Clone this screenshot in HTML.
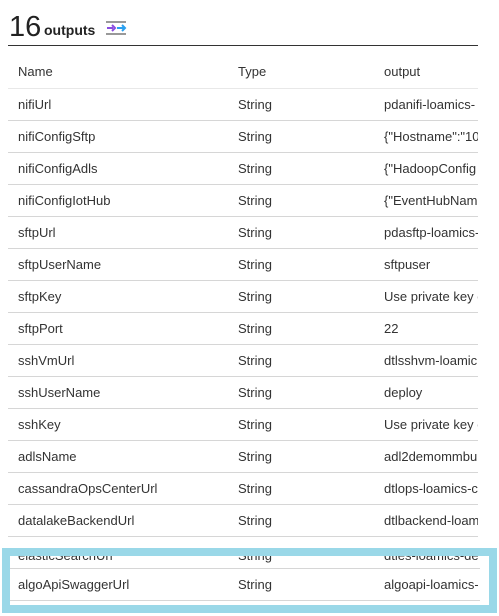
<!DOCTYPE html>
<html><head><style>
body{margin:0;width:499px;height:616px;background:#fff;position:relative;overflow:hidden;font-family:"Liberation Sans",sans-serif;color:#333;}
.t{position:absolute;font-size:13px;white-space:nowrap;line-height:16px}
.l{position:absolute;left:8px;width:470px;height:1px;background:#d6d6d6}
</style></head><body>
<div class="t" style="left:9px;top:10px;font-size:29px;line-height:34px;color:#222">16</div>
<div class="t" style="left:44px;top:22px;font-size:14px;font-weight:bold;color:#222">outputs</div>
<svg style="position:absolute;left:106px;top:21px" width="21" height="14">
<rect x="0" y="0" width="20" height="2" fill="#999"/><rect x="0" y="12" width="20" height="2" fill="#999"/>
<path d="M1 7h6" stroke="#8a4de0" stroke-width="2"/><path d="M6 4l3 3-3 3" fill="none" stroke="#8a4de0" stroke-width="2"/>
<path d="M11 7h7" stroke="#2aa0f0" stroke-width="2"/><path d="M16 4l3 3-3 3" fill="none" stroke="#2aa0f0" stroke-width="2"/>
</svg>
<div style="position:absolute;left:8px;top:45px;width:470px;height:1px;background:#333"></div>
<div class="t" style="left:18px;top:64px">Name</div>
<div class="t" style="left:238px;top:64px">Type</div>
<div class="t" style="left:384px;top:64px">output</div>
<div class="l" style="top:88px;background:#e8e8e8"></div>
<div id="rows"></div>
<script>
var r=[["nifiUrl","pdanifi-loamics-"],["nifiConfigSftp","{\"Hostname\":\"10"],["nifiConfigAdls","{\"HadoopConfig"],["nifiConfigIotHub","{\"EventHubNam"],["sftpUrl","pdasftp-loamics-"],["sftpUserName","sftpuser"],["sftpKey","Use private key c"],["sftpPort","22"],["sshVmUrl","dtlsshvm-loamic"],["sshUserName","deploy"],["sshKey","Use private key c"],["adlsName","adl2demommbu"],["cassandraOpsCenterUrl","dtlops-loamics-c"],["datalakeBackendUrl","dtlbackend-loam"]];
var h="";
r.forEach(function(a,i){var y=97+32*i;
h+='<div class="t" style="left:18px;top:'+y+'px">'+a[0]+'</div><div class="t" style="left:238px;top:'+y+'px">String</div><div class="t" style="left:384px;top:'+y+'px;width:94px;overflow:hidden">'+a[1]+'</div><div class="l" style="top:'+(120+32*i)+'px"></div>';});
document.getElementById("rows").innerHTML=h;
</script>
<div style="position:absolute;left:10px;top:556px;width:479px;height:48px;overflow:hidden">
<div class="t" style="left:8px;top:-8px">elasticSearchUrl</div>
<div class="t" style="left:228px;top:-8px">String</div>
<div class="t" style="left:374px;top:-8px;width:94px;overflow:hidden">dtles-loamics-de</div>
<div class="l" style="left:0;top:12px"></div>
<div class="t" style="left:8px;top:21px">algoApiSwaggerUrl</div>
<div class="t" style="left:228px;top:21px">String</div>
<div class="t" style="left:374px;top:21px;width:94px;overflow:hidden">algoapi-loamics-</div>
<div class="l" style="left:0;top:44px"></div>
</div>
<div style="position:absolute;left:2px;top:548px;width:479px;height:49px;border:8px solid #9ad8e8"></div>
</body></html>
